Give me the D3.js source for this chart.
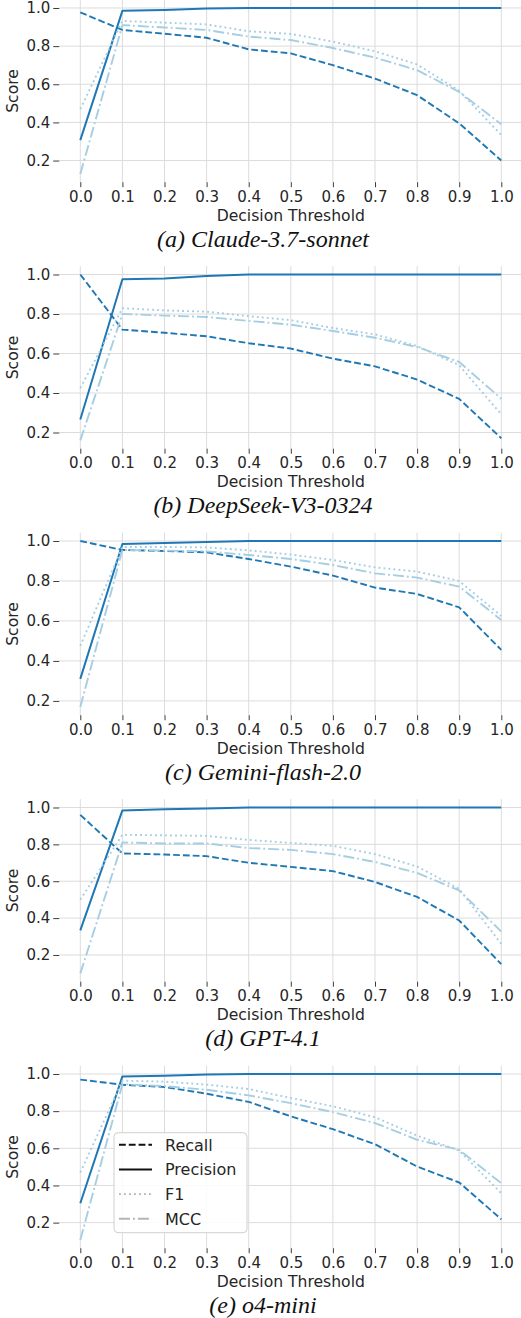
<!DOCTYPE html>
<html><head><meta charset="utf-8">
<script src="https://cdn.jsdelivr.net/npm/d3@7"></script>
<style>
html,body{margin:0;padding:0;background:#fff;}
svg{display:block;}
</style></head>
<body>
<svg id="chart" width="521" height="1318"></svg>
<script>
const thresholds = [0.0,0.1,0.2,0.3,0.4,0.5,0.6,0.7,0.8,0.9,1.0];
const xTickLabels = ["0.0","0.1","0.2","0.3","0.4","0.5","0.6","0.7","0.8","0.9","1.0"];
const yTickValues = [0.2,0.4,0.6,0.8,1.0];
const yTickLabels = ["0.2","0.4","0.6","0.8","1.0"];
const models = ["Claude-3.7-sonnet","DeepSeek-V3-0324","Gemini-flash-2.0","GPT-4.1","o4-mini"];
const letters = ["a","b","c","d","e"];
const metrics = ["Recall","Precision","F1","MCC"];

const recall = [
  [0.977,0.885,0.865,0.844,0.783,0.762,0.700,0.630,0.543,0.395,0.200],
  [1.000,0.721,0.705,0.687,0.652,0.625,0.574,0.535,0.468,0.370,0.171],
  [1.000,0.955,0.950,0.943,0.910,0.872,0.827,0.767,0.735,0.668,0.455],
  [0.960,0.751,0.745,0.736,0.700,0.678,0.655,0.596,0.515,0.387,0.150],
  [0.970,0.942,0.930,0.894,0.850,0.772,0.703,0.622,0.502,0.416,0.218]
];
const precision = [
  [0.307,0.985,0.990,0.997,1,1,1,1,1,1,1],
  [0.266,0.976,0.980,0.993,1,1,1,1,1,1,1],
  [0.310,0.985,0.990,0.995,1,1,1,1,1,1,1],
  [0.333,0.984,0.990,0.995,1,1,1,1,1,1,1],
  [0.304,0.987,0.990,0.997,1,1,1,1,1,1,1]
];
const f1 = [
  [0.470,0.932,0.923,0.914,0.878,0.864,0.824,0.773,0.704,0.566,0.334],
  [0.425,0.829,0.818,0.812,0.789,0.769,0.729,0.697,0.638,0.540,0.292],
  [0.475,0.970,0.970,0.968,0.953,0.932,0.905,0.868,0.847,0.800,0.625],
  [0.500,0.852,0.849,0.846,0.824,0.808,0.792,0.747,0.680,0.558,0.260],
  [0.470,0.964,0.959,0.943,0.919,0.871,0.826,0.767,0.668,0.588,0.358]
];
const mcc = [
  [0.130,0.910,0.898,0.885,0.850,0.832,0.790,0.740,0.674,0.560,0.390],
  [0.160,0.800,0.792,0.785,0.765,0.746,0.714,0.680,0.633,0.557,0.371],
  [0.170,0.955,0.952,0.948,0.930,0.910,0.880,0.838,0.817,0.772,0.605],
  [0.100,0.810,0.805,0.805,0.780,0.770,0.747,0.705,0.645,0.550,0.327],
  [0.107,0.945,0.935,0.915,0.885,0.843,0.795,0.736,0.646,0.592,0.412]
];

const DARK = "#1f78b4", LIGHT = "#a6cee3";
const styles = {
  Recall:    {color: DARK,  width: 1.9, dash: "6.8,3", legendColor: "#111"},
  Precision: {color: DARK,  width: 2.0, dash: null,    legendColor: "#111"},
  F1:        {color: LIGHT, width: 1.9, dash: "1.9,3.1", legendColor: "#b5b5b5"},
  MCC:       {color: LIGHT, width: 1.9, dash: "11,3,1.9,3", legendColor: "#b5b5b5"}
};
const seriesSets = {Recall: recall, Precision: precision, F1: f1, MCC: mcc};

const svg = d3.select("#chart");
const W = 521;
const axL = 59.25, axR = 522.35;
const panelStep = 266.5, panelTop0 = -0.3, axH = 182.5;
const textColor = "#262626";
const sans = "'DejaVu Sans', sans-serif";

const x = d3.scaleLinear().domain([-0.05, 1.05]).range([axL, axR]);

models.forEach((m, i) => {
  const T = panelTop0 + i * panelStep;
  const all = metrics.flatMap(k => seriesSets[k][i]);
  const [mn, mx] = d3.extent(all);
  const pad = (mx - mn) * 0.05;
  const y = d3.scaleLinear().domain([mn - pad, mx + pad]).range([T + axH, T]);
  const g = svg.append("g");

  // grid
  g.selectAll(".vg").data(thresholds).enter().append("line")
    .attr("x1", d => x(d)).attr("x2", d => x(d))
    .attr("y1", T).attr("y2", T + axH)
    .attr("stroke", "#dcdcdc").attr("stroke-width", 1);
  g.selectAll(".hg").data(yTickValues).enter().append("line")
    .attr("x1", axL).attr("x2", axR)
    .attr("y1", d => y(d)).attr("y2", d => y(d))
    .attr("stroke", "#dcdcdc").attr("stroke-width", 1);

  // x axis
  const xAxis = d3.axisBottom(x).tickValues(thresholds)
    .tickFormat((d, j) => xTickLabels[j]).tickSize(5).tickPadding(4);
  const xa = g.append("g").attr("transform", `translate(0,${T + axH})`).call(xAxis);
  xa.select(".domain").remove();
  xa.selectAll("line").attr("stroke", textColor).attr("stroke-width", 0.9);
  xa.selectAll("text").attr("fill", textColor).style("font-family", sans).style("font-size", "15px");

  // y axis
  const yAxis = d3.axisLeft(y).tickValues(yTickValues)
    .tickFormat((d, j) => yTickLabels[j]).tickSize(6).tickPadding(3);
  const ya = g.append("g").attr("transform", `translate(${axL},0)`).call(yAxis);
  ya.select(".domain").remove();
  ya.selectAll("line").attr("stroke", textColor).attr("stroke-width", 0.9);
  ya.selectAll("text").attr("fill", textColor).style("font-family", sans).style("font-size", "15px");

  // labels
  g.append("text").attr("x", (x(0) + x(1)) / 2).attr("y", T + 221)
    .attr("text-anchor", "middle").attr("fill", textColor)
    .style("font-family", sans).style("font-size", "15.6px").text("Decision Threshold");
  g.append("text").attr("transform", `translate(18,${T + axH / 2}) rotate(-90)`)
    .attr("text-anchor", "middle").attr("fill", textColor)
    .style("font-family", sans).style("font-size", "15.6px").text("Score");

  // caption
  g.append("text").attr("x", 263).attr("y", T + 247)
    .attr("text-anchor", "middle").attr("fill", "#111")
    .style("font-family", "'Liberation Serif','Times New Roman',serif")
    .style("font-style", "italic").style("font-size", "24px")
    .text(`(${letters[i]}) ${m}`);

  // lines
  const line = d3.line().x((d, j) => x(thresholds[j])).y(d => y(d));
  metrics.forEach(k => {
    const s = styles[k];
    g.append("path").datum(seriesSets[k][i])
      .attr("d", line).attr("fill", "none")
      .attr("stroke", s.color).attr("stroke-width", s.width)
      .attr("stroke-dasharray", s.dash)
      .attr("stroke-linejoin", "round");
  });

  // legend in last panel
  if (i === models.length - 1) {
    const lg = g.append("g");
    lg.append("rect").attr("x", 114).attr("y", T + 67).attr("width", 133).attr("height", 100)
      .attr("rx", 4).attr("fill", "#fff").attr("fill-opacity", 0.85)
      .attr("stroke", "#d0d0d0").attr("stroke-width", 1);
    metrics.forEach((k, j) => {
      const cy = T + 79 + j * 24.7;
      const s = styles[k];
      lg.append("line").attr("x1", 119).attr("x2", 152).attr("y1", cy).attr("y2", cy)
        .attr("stroke", s.legendColor).attr("stroke-width", s.width)
        .attr("stroke-dasharray", s.dash);
      lg.append("text").attr("x", 165).attr("y", cy + 5.8).attr("fill", textColor)
        .style("font-family", sans).style("font-size", "16px").text(k);
    });
  }
});
</script>
</body></html>
